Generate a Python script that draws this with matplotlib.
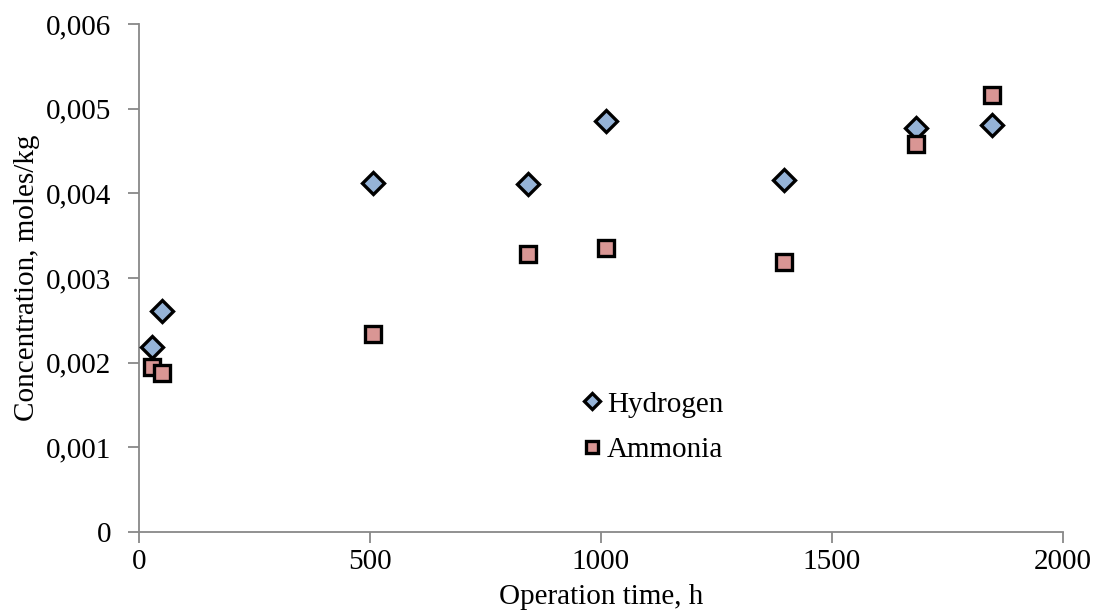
import matplotlib
matplotlib.use("Agg")
import matplotlib.pyplot as plt
from matplotlib.ticker import FuncFormatter

# operation time (h) and concentrations (moles/kg)
hydrogen_t = [28, 50, 506, 842, 1011, 1396, 1681, 1846]
hydrogen_c = [0.00219, 0.00261, 0.00412, 0.00411, 0.00485, 0.00416, 0.00477, 0.00481]
ammonia_t = [28, 50, 506, 842, 1011, 1396, 1681, 1846]
ammonia_c = [0.00195, 0.00188, 0.00234, 0.00328, 0.00335, 0.00319, 0.00458, 0.00516]

x_ticks = [0, 500, 1000, 1500, 2000]
y_ticks = [0, 0.001, 0.002, 0.003, 0.004, 0.005, 0.006]

plt.rcParams['font.family'] = ['Liberation Serif', 'DejaVu Serif']

fig = plt.figure(figsize=(10.95, 6.13), dpi=100)
ax = fig.add_axes([0.1269, 0.1321, 0.8439, 0.8287])

ax.plot(hydrogen_t, hydrogen_c, linestyle='none', marker='D', markersize=11,
        markerfacecolor='#95b3d7', markeredgecolor='black', markeredgewidth=2.4,
        label='Hydrogen', zorder=3)
ax.plot(ammonia_t, ammonia_c, linestyle='none', marker='s', markersize=11,
        markerfacecolor='#d99694', markeredgecolor='black', markeredgewidth=2.4,
        label='Ammonia', zorder=3)

ax.set_xlim(0, 2000)
ax.set_ylim(0, 0.006)
ax.set_xticks(x_ticks)
ax.set_yticks(y_ticks)


def comma_fmt(v, pos):
    if abs(v) < 1e-12:
        return '0'
    return f'{v:.3f}'.replace('.', ',')


ax.yaxis.set_major_formatter(FuncFormatter(comma_fmt))

for side in ['top', 'right']:
    ax.spines[side].set_visible(False)
for side in ['left', 'bottom']:
    ax.spines[side].set_color('#888888')
    ax.spines[side].set_linewidth(1.3)

ax.tick_params(axis='both', colors='#888888', length=8, width=1.3,
               labelsize=21, labelcolor='black', direction='out')
ax.tick_params(axis='y', pad=12)
ax.tick_params(axis='x', pad=4)

ax.set_xlabel('Operation time, h', fontsize=21, labelpad=7)
ax.set_ylabel('Concentration, moles/kg', fontsize=21, labelpad=4)

ax.legend(loc='upper left', bbox_to_anchor=(0.462, 0.30), frameon=False,
          fontsize=21, handletextpad=0.0, labelspacing=0.65, borderaxespad=0,
          handlelength=1.0, markerscale=0.75)

fig.savefig('out.png', dpi=100)
